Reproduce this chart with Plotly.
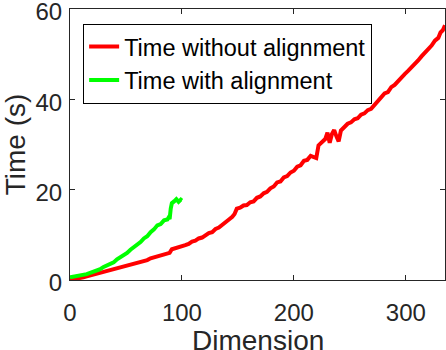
import plotly.graph_objects as go

dim_red = [0, 3, 6, 9, 12, 15, 18, 21, 24, 27, 30, 33, 36, 39, 42, 45, 48, 51, 54, 57,
           60, 63, 66, 69, 72, 75, 78, 81, 84, 87, 89, 91, 94, 97, 100, 103, 106, 109,
           112, 115, 118, 121, 124, 127, 130, 133, 136, 139, 142, 145, 147, 149, 152,
           155, 158, 161, 164, 167, 170, 173, 176, 179, 182, 185, 188, 191, 194, 197,
           200, 203, 206, 209, 212, 215, 218, 220, 222, 224, 226, 228, 230, 232, 234,
           236, 238, 240, 242, 245, 248, 251, 254, 257, 260, 263, 266, 269, 272, 275,
           278, 281, 284, 287, 290, 293, 296, 299, 302, 305, 308, 311, 314, 317, 320,
           323, 326, 329, 331, 333, 335]
time_red = [0, 0.1, 0.25, 0.35, 0.6, 0.8, 1.0, 1.2, 1.3, 1.6, 1.8, 1.9, 2.2, 2.3, 2.6,
            2.7, 2.9, 3.1, 3.3, 3.6, 3.8, 3.9, 4.3, 4.4, 4.8, 5.0, 5.2, 5.5, 5.7, 5.9,
            6.0, 6.8, 7.0, 7.1, 7.3, 7.7, 8.0, 8.5, 8.7, 9.2, 9.4, 9.9, 10.4, 10.6,
            11.3, 11.6, 12.3, 12.7, 13.4, 14.0, 14.6, 15.8, 16.0, 16.5, 16.6, 17.2,
            17.4, 18.2, 18.5, 19.2, 19.5, 20.3, 20.7, 21.6, 21.8, 22.7, 23.0, 23.8,
            24.2, 25.1, 25.4, 26.4, 26.6, 27.5, 27.2, 27.0, 29.8, 30.2, 30.6, 31.2,
            32.6, 30.4, 32.3, 33.2, 31.8, 30.7, 33.1, 33.9, 34.6, 34.9, 35.6, 35.8,
            36.6, 36.9, 37.6, 37.9, 38.8, 39.7, 40.3, 41.3, 41.6, 42.7, 43.2, 44.1,
            44.9, 45.6, 46.3, 47.0, 47.8, 48.6, 49.5, 50.2, 51.2, 51.9, 53.0, 53.6,
            54.8, 55.3, 56.4, 55.8]

dim_green = [0, 3, 6, 9, 12, 15, 18, 21, 24, 27, 30, 33, 36, 39, 42, 45, 48, 51, 54,
             57, 60, 63, 66, 69, 72, 75, 78, 81, 84, 87, 88, 89, 90, 91, 93, 95, 97,
             99, 100]
time_green = [0.6, 0.7, 0.9, 1.0, 1.2, 1.3, 1.6, 1.8, 2.2, 2.4, 2.9, 3.2, 3.7, 3.9,
              4.6, 5.0, 5.6, 6.0, 6.7, 7.2, 7.9, 8.4, 9.2, 9.7, 10.6, 11.2, 12.1, 12.4,
              13.2, 13.4, 13.8, 13.5, 15.8, 17.0, 17.4, 17.9, 17.3, 17.8, 17.6]

x_ticks = [0, 100, 200, 300]
y_ticks = [0, 20, 40, 60]

fig = go.Figure()
fig.add_trace(go.Scatter(x=dim_red, y=time_red, mode="lines", name="Time without alignment",
                         line=dict(color="#ff0000", width=4)))
fig.add_trace(go.Scatter(x=dim_green, y=time_green, mode="lines", name="Time with alignment",
                         line=dict(color="#00ff00", width=4)))

axis_common = dict(showline=True, linecolor="#262626", linewidth=1, mirror="ticks",
                   ticks="inside", ticklen=5, tickcolor="#262626", showgrid=False,
                   zeroline=False, automargin=False, ticklabeloverflow="allow",
                   tickfont=dict(size=24, color="#262626"))

fig.update_layout(
    width=446, height=350,
    margin=dict(l=70, r=1, t=9, b=70),
    paper_bgcolor="white", plot_bgcolor="white",
    font=dict(family="Liberation Sans, Arial, sans-serif", color="#262626"),
    xaxis=dict(range=[0, 335], tickvals=x_ticks, ticklabelstandoff=11, **axis_common),
    yaxis=dict(range=[0, 60], tickvals=y_ticks, ticklabelstandoff=2, ticklabelshift=3,
               title=dict(text="Time (s)", font=dict(size=28, color="#262626"), standoff=6),
               **axis_common),
    legend=dict(x=0.035, y=0.946, xanchor="left", yanchor="top",
                bordercolor="#000000", borderwidth=1, bgcolor="white",
                font=dict(size=23.5, color="#000000"), tracegroupgap=0),
    showlegend=True,
    annotations=[dict(text="Dimension", xref="paper", yref="paper", x=0.5, y=-0.225,
                      xanchor="center", yanchor="middle", showarrow=False,
                      font=dict(size=28, color="#262626"))],
)

fig.write_html("out.html", config={"displayModeBar": False},
               post_script="document.body.style.margin='0';document.body.style.padding='0';")
